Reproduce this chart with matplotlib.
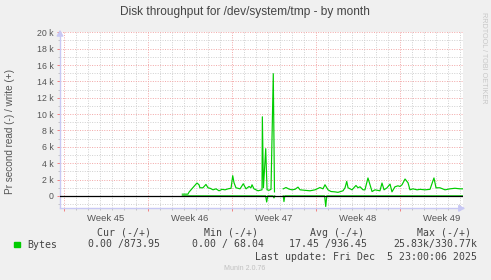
import numpy as np
import matplotlib
matplotlib.use("Agg")
import matplotlib.pyplot as plt
from matplotlib.ticker import FixedLocator, MultipleLocator

# ---------------- data ----------------
# time in days since Mon Nov 3 2025 00:00 (start of week 45)
write_days = [9.86, 10.33, 10.42, 10.75, 11.08, 11.25, 11.33, 11.58, 11.83, 12.0,
              12.17, 12.42, 12.67, 12.92, 13.17, 13.42, 13.67, 13.92, 14.06, 14.17,
              14.33, 14.67, 14.94, 15.17, 15.42, 15.58, 15.67, 15.83, 16.0, 16.17,
              16.33, 16.5, 16.53, 16.62, 16.81, 16.92, 17.08, 17.25, 17.44, 17.54,
              17.64,
              18.27, 18.5, 18.75, 19.0, 19.25, 19.5, 19.67, 20.08, 20.5, 20.92,
              21.33, 21.58, 21.75, 22.0, 22.25, 22.58, 22.83, 23.25, 23.42, 23.56,
              23.67, 24.0, 24.33, 24.5, 24.67, 24.92, 25.08, 25.33, 25.5, 25.67,
              25.92, 26.33, 26.5, 26.67, 26.92, 27.17, 27.33, 27.58, 27.83, 28.0,
              28.17, 28.42, 28.67, 28.83, 29.08, 29.42, 29.67, 30.08, 30.5, 30.83,
              31.0, 31.33, 31.75, 32.17, 32.58, 33.0, 33.25]
write_kb = [0.21, 0.21, 0.46, 1.02, 1.57, 1.36, 0.99, 0.99, 1.40, 0.99,
            0.93, 0.74, 0.86, 0.62, 0.80, 0.74, 0.86, 0.93, 2.47, 1.60,
            0.99, 0.86, 1.48, 0.86, 1.15, 0.99, 1.36, 0.86, 0.74, 0.62,
            0.68, 0.74, 9.67, 0.99, 5.77, 0.74, 0.68, 0.80, 14.94, 0.49,
            np.nan,
            0.86, 1.02, 0.83, 0.74, 0.80, 1.07, 0.74, 0.68, 0.62, 0.74,
            1.02, 0.86, 1.36, 0.74, 0.53, 0.49, 0.43, 0.62, 0.99, 1.77,
            0.99, 0.74, 1.27, 0.99, 1.11, 0.74, 0.74, 2.19, 1.36, 0.53,
            0.74, 0.62, 1.57, 0.74, 0.99, 1.44, 0.49, 1.11, 1.23, 1.15,
            1.36, 2.06, 1.60, 0.74, 0.86, 0.74, 0.80, 0.74, 0.80, 2.19,
            0.99, 0.99, 0.74, 0.86, 0.93, 0.86, 0.86]

read_days = [9.86, 16.80, 16.89, 16.98, 17.42, 17.50, 17.56, 17.64,
             18.27, 18.33, 18.40, 21.72, 21.81, 21.90, 33.25]
read_kb = [0.0, 0.0, 0.75, 0.0, 0.0, 0.25, 0.0, np.nan,
           0.0, 0.70, 0.0, 0.0, 1.30, 0.0, 0.0]

week_starts = [0, 7, 14, 21, 28]
week_labels = ["Week 45", "Week 46", "Week 47", "Week 48", "Week 49"]
ytick_vals = [0, 2, 4, 6, 8, 10, 12, 14, 16, 18, 20]
ytick_labels = ["0"] + ["%d k" % v for v in ytick_vals[1:]]

title = "Disk throughput for /dev/system/tmp - by month"
ylabel = "Pr second read (-) / write (+)"
legend_header = ["Cur (-/+)", "Min (-/+)", "Avg (-/+)", "Max (-/+)"]
legend_values = ["0.00 /873.95", "0.00 / 68.04", "17.45 /936.45", "25.83k/330.77k"]
series_name = "Bytes"
last_update = "Last update: Fri Dec  5 23:00:06 2025"
munin_ver = "Munin 2.0.76"

# ---------------- figure ----------------
W, H = 491, 280
fig = plt.figure(figsize=(W / 100, H / 100), dpi=100, facecolor="#F0F0F0")
ax = fig.add_axes([60 / W, (H - 208.3) / H, (463 - 60) / W, (208.3 - 32.3) / H])
ax.set_facecolor("white")

GREEN = "#00CC00"
wd = np.array(write_days); wv = np.array(write_kb) * 1000
rd = np.array(read_days); rv = -np.array(read_kb) * 1000
ax.plot(rd, rv, color=GREEN, lw=0.85, zorder=3)
ax.plot(wd, wv, color=GREEN, lw=0.85, zorder=3)
ax.axhline(0, color="black", lw=0.9, zorder=4)

ax.set_xlim(-0.333, 33.25)
ax.set_ylim(-1520, 20000)

# grid
ax.xaxis.set_major_locator(FixedLocator(week_starts))
ax.xaxis.set_minor_locator(MultipleLocator(1))
ax.yaxis.set_major_locator(FixedLocator([v * 1000 for v in ytick_vals]))
ax.yaxis.set_minor_locator(MultipleLocator(1000))
ax.grid(which="minor", color="#D0D0D0", lw=0.7, linestyle=(0, (1, 1.5)), zorder=1)
ax.grid(which="major", color="#F2A6A6", lw=0.7, linestyle=(0, (1, 1.5)), zorder=2)
ax.set_xticklabels([])
ax.set_yticklabels(ytick_labels)
ax.tick_params(axis="both", which="major", color="#F08080", length=2.5, width=0.7)
ax.tick_params(axis="both", which="minor", color="#BBBBBB", length=1.5, width=0.6)
ax.tick_params(axis="y", labelsize=6.3, labelcolor="#555555", pad=2)
for lab in ax.get_yticklabels():
    lab.set_family("Liberation Sans")

for s in ["top", "right"]:
    ax.spines[s].set_visible(False)
for s in ["left", "bottom"]:
    ax.spines[s].set_color("#C8C8F4")
    ax.spines[s].set_linewidth(1.0)

# axis arrows
ax.annotate("", xy=(1.012, 0), xycoords="axes fraction", xytext=(0.99, 0),
            arrowprops=dict(arrowstyle="-|>,head_length=0.35,head_width=0.2",
                            color="#C8C8F4", lw=1.0), annotation_clip=False)
ax.annotate("", xy=(0, 1.03), xycoords="axes fraction", xytext=(0, 0.98),
            arrowprops=dict(arrowstyle="-|>,head_length=0.35,head_width=0.2",
                            color="#C8C8F4", lw=1.0), annotation_clip=False)

# week labels at mid-week
for ws, wl in zip(week_starts, week_labels):
    ax.text(ws + 3.5, -0.035, wl, transform=ax.get_xaxis_transform(),
            ha="center", va="top", fontsize=6.8, color="#555555",
            family="Liberation Sans")

# texts
fig.text(245 / W, 1 - 12 / H, title, ha="center", va="center",
         fontsize=8.6, color="#444444", family="Liberation Sans")
fig.text(10 / W, 1 - 132 / H, ylabel, ha="center", va="center", rotation=90,
         fontsize=7.2, color="#555555", family="Liberation Sans")
fig.text(483 / W, 1 - 12 / H, "RRDTOOL / TOBI OETIKER", ha="center", va="top",
         rotation=-90, fontsize=5.2, color="#C8C8C8", family="Liberation Sans")

mono = dict(family="DejaVu Sans Mono", fontsize=7.1, color="#444444", va="center")
header_x = [97, 204, 310, 417]
value_x = [88, 192, 289, 393]
for hx, ht in zip(header_x, legend_header):
    fig.text(hx / W, 1 - 232.7 / H, ht, ha="left", **mono)
fig.patches.append(plt.Rectangle((14 / W, 1 - 247 / H), 5.5 / W, 5.5 / H,
                                 transform=fig.transFigure, color=GREEN))
fig.text(27 / W, 1 - 244.5 / H, series_name, ha="left", **mono)
for vx, vt in zip(value_x, legend_values):
    fig.text(vx / W, 1 - 244.5 / H, vt, ha="left", **mono)
fig.text(477 / W, 1 - 256.7 / H, last_update, ha="right", **mono)
fig.text(245 / W, 1 - 268.5 / H, munin_ver, ha="center", va="center",
         fontsize=5.0, color="#C0C0C0", family="Liberation Sans")

fig.savefig("out.png", dpi=100, facecolor=fig.get_facecolor())
